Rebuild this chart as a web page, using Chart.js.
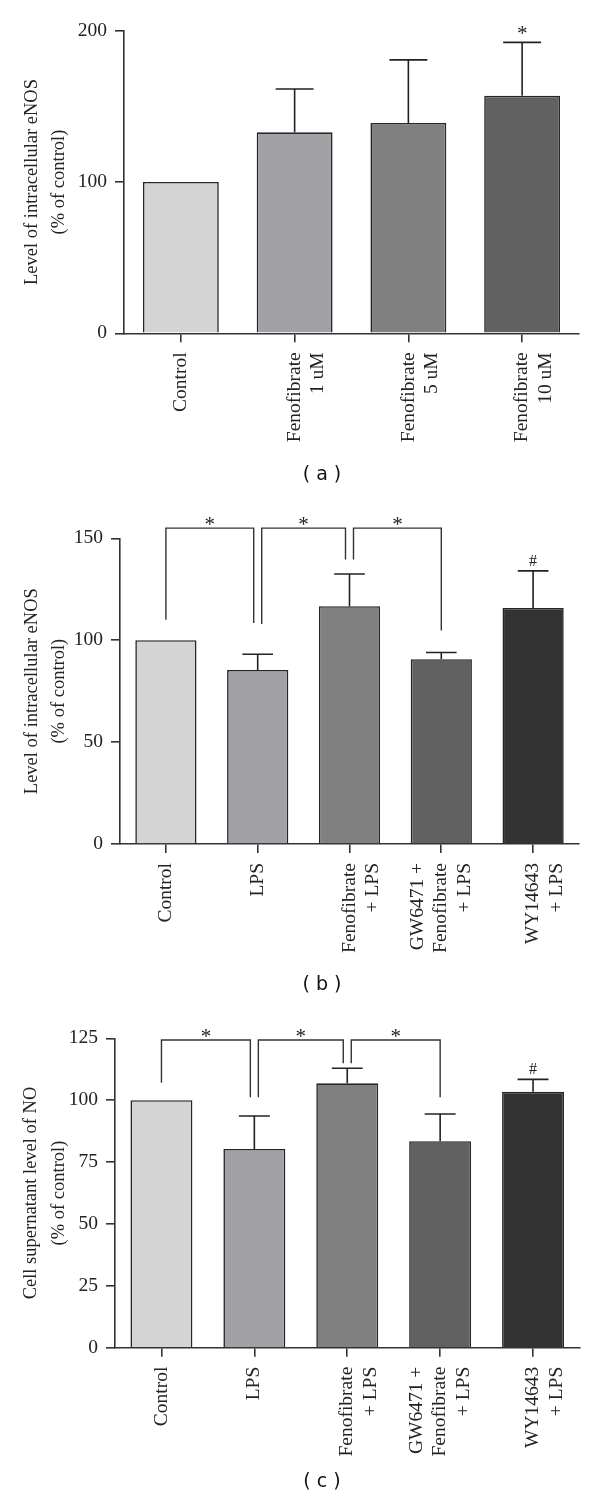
<!DOCTYPE html>
<html>
<head>
<meta charset="utf-8">
<script src="https://cdn.jsdelivr.net/npm/chart.js@4.4.0/dist/chart.umd.min.js"></script>
<style>
    html, body { margin: 0; padding: 0; background: #fff; }
    body { width: 600px; height: 1506px; position: relative; overflow: hidden; }
    .panel { position: absolute; left: 0; width: 600px; }
    .caption { position: absolute; left: 262px; width: 120px; height: 22px; line-height: 22px; text-align: center; font-size: 19px; font-family: "DejaVu Sans", sans-serif; color: #111; }
</style>
</head>
<body>
<div class="panel" style="top:0;height:500px"><canvas id="chartA" width="600" height="500"></canvas></div>
<div class="panel" style="top:500px;height:500px"><canvas id="chartB" width="600" height="500"></canvas></div>
<div class="panel" style="top:1000px;height:506px"><canvas id="chartC" width="600" height="506"></canvas></div>
<div class="caption" style="top:462px">( a )</div>
<div class="caption" style="top:972px">( b )</div>
<div class="caption" style="top:1469px">( c )</div>

<script>
// ---- data ----
const barColors = ["#d4d4d4", "#a2a1a6", "#808080", "#616161", "#333333"];

// panel (a)
const labelsA = [["Control"], ["Fenofibrate", "1 uM"], ["Fenofibrate", "5 uM"], ["Fenofibrate", "10 uM"]];
const valuesA = [100, 132.8, 139, 157];
const errorsA = [0, 28.7, 41.7, 35.3];
const marksA = ["", "", "", "*"];
const ticksA = [0, 100, 200];
const titleA = ["Level of intracellular eNOS", "(% of control)"];

// panel (b)
const labelsB = [["Control"], ["LPS"], ["Fenofibrate", "+ LPS"], ["GW6471 +", "Fenofibrate", "+ LPS"], ["WY14643", "+ LPS"]];
const valuesB = [100, 85.4, 116.7, 90.7, 115.8];
const errorsB = [0, 7.7, 15.8, 3.3, 18.2];
const marksB = ["", "", "", "", "#"];
const ticksB = [0, 50, 100, 150];
const titleB = ["Level of intracellular eNOS", "(% of control)"];
// [from, to, left leg end, right leg end]
const bracketsB = [[0, 1, 110, 108.5], [1, 2, 108, 139.6], [2, 3, 139.6, 104.8]];
const bracketTopB = 155;

// panel (c)
const labelsC = [["Control"], ["LPS"], ["Fenofibrate", "+ LPS"], ["GW6471 +", "Fenofibrate", "+ LPS"], ["WY14643", "+ LPS"]];
const valuesC = [100, 80.3, 106.8, 83.4, 103.4];
const errorsC = [0, 13.3, 6.1, 11.0, 5.0];
const marksC = ["", "", "", "", "#"];
const ticksC = [0, 25, 50, 75, 100, 125];
const titleC = ["Cell supernatant level of NO", "(% of control)"];
const bracketsC = [[0, 1, 107, 101.2], [1, 2, 101.2, 114.9], [2, 3, 114.9, 101.2]];
const bracketTopC = 124.3;

const SERIF = '"Liberation Serif", "Times New Roman", serif';
const INK = "#222";
const AXIS = "#333";

// draws text so that the glyphs are centred on (x, cy)
function centredText(ctx, txt, x, cy) {
    const m = ctx.measureText(txt);
    const base = cy + (m.actualBoundingBoxAscent - m.actualBoundingBoxDescent) / 2;
    ctx.fillText(txt, x, base);
}

// error bars, marks, brackets and x labels
const extrasPlugin = {
    id: "extras",
    afterDraw(chart, args, opts) {
        const ctx = chart.ctx;
        const xs = chart.scales.x;
        const ys = chart.scales.y;
        const meta = chart.getDatasetMeta(0);
        const values = chart.data.datasets[0].data;

        ctx.save();
        ctx.strokeStyle = INK;
        ctx.fillStyle = INK;
        ctx.lineWidth = 1.6;

        // error bars (upper half only)
        meta.data.forEach((bar, i) => {
            const err = opts.errors[i];
            const yCap = ys.getPixelForValue(values[i] + err);
            if (err) {
                const half = bar.width / 4;
                ctx.beginPath();
                ctx.moveTo(bar.x, bar.y);
                ctx.lineTo(bar.x, yCap);
                ctx.moveTo(bar.x - half, yCap);
                ctx.lineTo(bar.x + half, yCap);
                ctx.stroke();
            }
            const mark = opts.marks[i];
            if (mark) {
                ctx.font = (mark === "#" ? "16px " : "21px ") + SERIF;
                ctx.textAlign = "center";
                centredText(ctx, mark, bar.x, yCap - (mark === "#" ? 10.5 : 12));
            }
        });

        // significance brackets
        const brackets = opts.brackets || [];
        const gap = 4;
        if (brackets.length) {
            const yTop = ys.getPixelForValue(opts.bracketTop);
            ctx.lineWidth = 1.4;
            ctx.strokeStyle = AXIS;
            brackets.forEach(([i, j, lEnd, rEnd]) => {
                let xl = xs.getPixelForValue(i);
                let xr = xs.getPixelForValue(j);
                if (brackets.some(b => b[1] === i)) xl += gap;
                if (brackets.some(b => b[0] === j)) xr -= gap;
                ctx.beginPath();
                ctx.moveTo(xl, ys.getPixelForValue(lEnd));
                ctx.lineTo(xl, yTop);
                ctx.lineTo(xr, yTop);
                ctx.lineTo(xr, ys.getPixelForValue(rEnd));
                ctx.stroke();
                ctx.font = "21px " + SERIF;
                ctx.textAlign = "center";
                centredText(ctx, "*", (xl + xr) / 2, yTop - 7);
            });
        }

        // rotated x labels, read bottom to top
        ctx.font = "19.5px " + SERIF;
        ctx.textAlign = "right";
        ctx.textBaseline = "middle";
        const base = chart.chartArea.bottom;
        opts.labels.forEach((lines, i) => {
            const cx = xs.getPixelForValue(i);
            const mid = Math.floor((lines.length - 1) / 2);
            lines.forEach((t, k) => {
                ctx.save();
                ctx.translate(cx + (k - mid) * 23.5, base + 19);
                ctx.rotate(-Math.PI / 2);
                ctx.fillText(t, 0, 0);
                ctx.restore();
            });
        });
        ctx.restore();
    }
};

function makeChart(id, cfg) {
    const canvas = document.getElementById(id);
    const H = canvas.height;
    return new Chart(canvas, {
        type: "bar",
        data: {
            labels: cfg.labels.map(l => l.join(" ")),
            datasets: [{
                data: cfg.values,
                backgroundColor: barColors.slice(0, cfg.values.length),
                borderColor: "#262626",
                borderWidth: 1.6,
                borderSkipped: "start",
                categoryPercentage: 1.0,
                barPercentage: 0.667
            }]
        },
        options: {
            responsive: false,
            animation: false,
            devicePixelRatio: 1,
            layout: { padding: { left: 0, right: cfg.right, top: cfg.top, bottom: 0 } },
            plugins: {
                legend: { display: false },
                tooltip: { enabled: false },
                extras: {
                    labels: cfg.labels,
                    errors: cfg.errors,
                    marks: cfg.marks,
                    brackets: cfg.brackets,
                    bracketTop: cfg.bracketTop
                }
            },
            scales: {
                x: {
                    offset: true,
                    border: { display: true, color: AXIS, width: 1.6 },
                    grid: { offset: false, drawOnChartArea: false, drawTicks: true, tickLength: 9, color: AXIS, lineWidth: 1.6 },
                    ticks: { display: false },
                    afterFit: s => { s.height = H - cfg.bottom; }
                },
                y: {
                    min: 0,
                    max: cfg.ticks[cfg.ticks.length - 1],
                    afterBuildTicks: s => { s.ticks = cfg.ticks.map(v => ({ value: v })); },
                    border: { display: true, color: AXIS, width: 1.6 },
                    grid: { drawOnChartArea: false, drawTicks: true, tickLength: 9, color: AXIS, lineWidth: 1.6 },
                    ticks: { padding: 8, color: INK, font: { family: SERIF, size: 19.5 } },
                    title: {
                        display: true,
                        text: cfg.title,
                        color: INK,
                        font: { family: SERIF, size: 18.5, lineHeight: 1.47 },
                        padding: { top: cfg.titlePad, bottom: 0 }
                    },
                    afterFit: s => { s.width = cfg.left; }
                }
            }
        },
        plugins: [extrasPlugin]
    });
}

makeChart("chartA", {
    labels: labelsA, values: valuesA, errors: errorsA, marks: marksA, ticks: ticksA, title: titleA,
    left: 124, right: 21, top: 30.7, bottom: 333.3, titlePad: 18.5
});
makeChart("chartB", {
    labels: labelsB, values: valuesB, errors: errorsB, marks: marksB, ticks: ticksB, title: titleB,
    brackets: bracketsB, bracketTop: bracketTopB,
    left: 120, right: 21, top: 38.3, bottom: 344, titlePad: 18.5
});
makeChart("chartC", {
    labels: labelsC, values: valuesC, errors: errorsC, marks: marksC, ticks: ticksC, title: titleC,
    brackets: bracketsC, bracketTop: bracketTopC,
    left: 115, right: 20.5, top: 38.3, bottom: 347.7, titlePad: 18
});
</script>
</body>
</html>
